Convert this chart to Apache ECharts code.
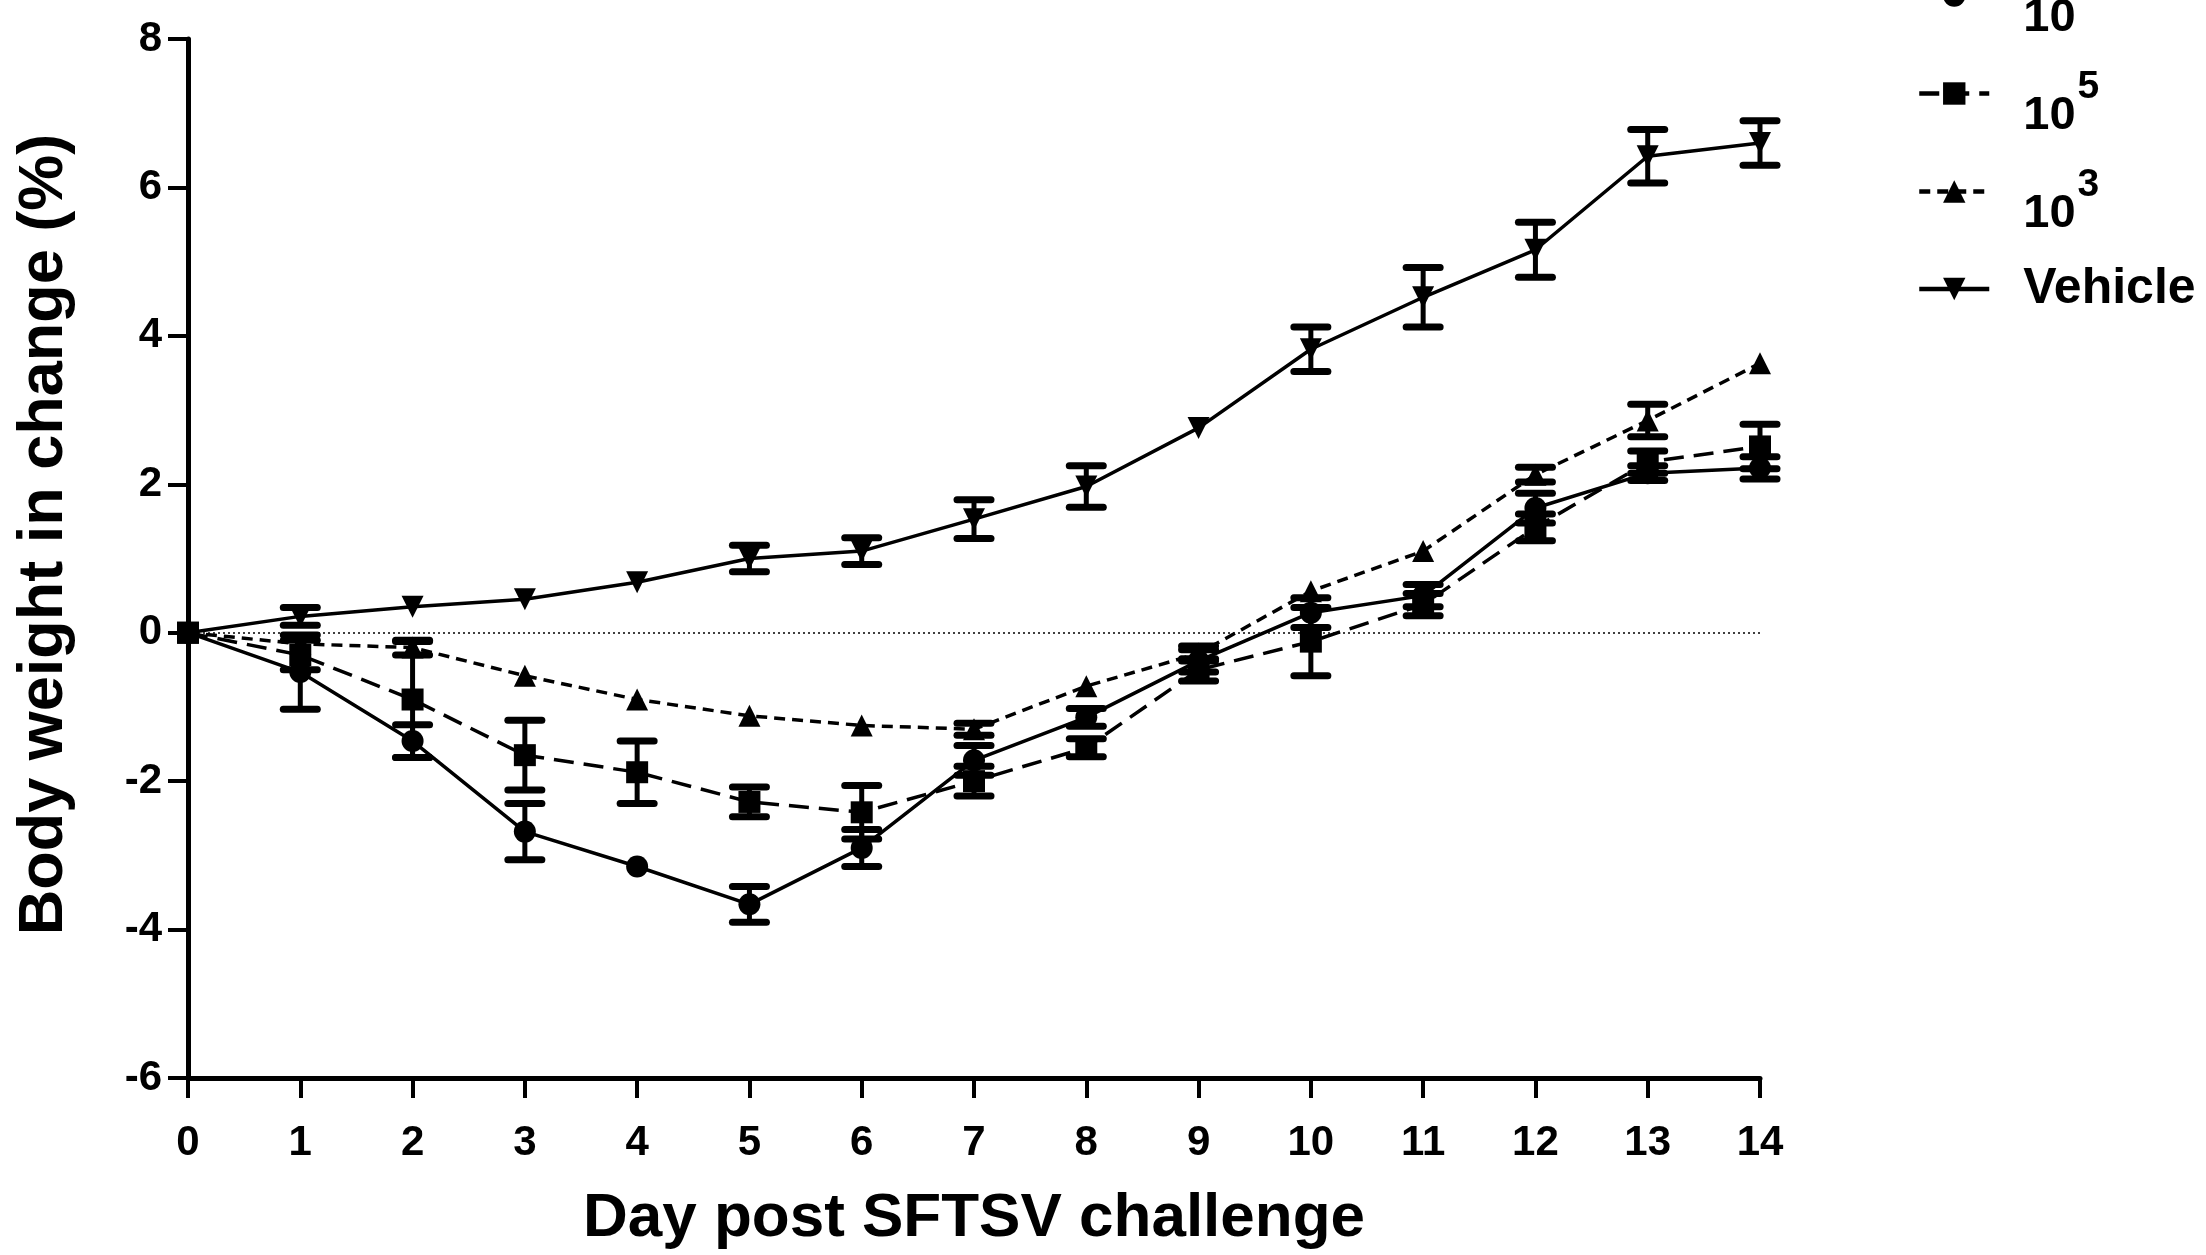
<!DOCTYPE html>
<html>
<head>
<meta charset="utf-8">
<script src="https://cdn.jsdelivr.net/npm/echarts@6/dist/echarts.min.js"></script>
<style>
html,body{margin:0;padding:0;background:#fff;}
#chart{width:2206px;height:1255px;}
</style>
</head>
<body>
<div id="chart"></div>
<script>
// ---- data ----
var days = [0,1,2,3,4,5,6,7,8,9,10,11,12,13,14];
var xTicks = ['0','1','2','3','4','5','6','7','8','9','10','11','12','13','14'];
var seriesNames = ['10^7','10^5','10^3','Vehicle'];

var g7    = [0,-0.53,-1.46,-2.68,-3.15,-3.66,-2.90,-1.72,-1.14,-0.38,0.27,0.50,1.68,2.15,2.22];
var g7Err = [0, 0.50, 0.22, 0.38, 0.04, 0.24, 0.25, 0.20, 0.12, 0.15,0.20,0.15,0.20,0.10,0.15];

var g5    = [0,-0.30,-0.90,-1.65,-1.88,-2.28,-2.42,-2.00,-1.55,-0.50,-0.12,0.38,1.42,2.30,2.51];
var g5Err = [0, 0.20, 0.78, 0.47, 0.42, 0.20, 0.36, 0.20, 0.12, 0.15, 0.46,0.15,0.18,0.15,0.30];

var g3    = [0,-0.15,-0.20,-0.58,-0.90,-1.12,-1.25,-1.30,-0.72,-0.28,0.56,1.10,2.13,2.86,3.63];
var g3Err = [0, 0.05, 0.10, 0.05, 0.05, 0.05, 0.05, 0.08, 0.05, 0.10,0.05,0.05,0.10,0.22,0.05];

var veh    = [0,0.22,0.35,0.45,0.68,1.00,1.10,1.53,1.97,2.76,3.82,4.52,5.16,6.42,6.60];
var vehErr = [0,0.12,0.05,0.05,0.05,0.18,0.18,0.26,0.28,0.05,0.30,0.40,0.37,0.36,0.30];

// ---- helpers ----
function pts(vals){ return days.map(function(d,i){ return [d, vals[i]]; }); }
function errPts(vals, errs){ return days.map(function(d,i){ return [d, vals[i], errs[i]]; }); }

var FONT = '"Liberation Sans", Arial, Helvetica, sans-serif';

function errRender(params, api){
  var x = api.value(0), y = api.value(1), e = api.value(2);
  if (!(e > 0.06)) return null;
  var top = api.coord([x, y + e]);
  var bot = api.coord([x, y - e]);
  var hw = 17;
  var st = {stroke:'#000', lineWidth:7, lineCap:'round'};
  return {
    type:'group',
    children:[
      {type:'line', shape:{x1:top[0], y1:top[1], x2:bot[0], y2:bot[1]}, style:{stroke:'#000', lineWidth:5}},
      {type:'line', shape:{x1:top[0]-hw, y1:top[1], x2:top[0]+hw, y2:top[1]}, style:st},
      {type:'line', shape:{x1:bot[0]-hw, y1:bot[1], x2:bot[0]+hw, y2:bot[1]}, style:st}
    ]
  };
}

function lineSeries(name, vals, symbol, dash, rotate){
  return {
    name: name,
    type: 'line',
    data: pts(vals),
    symbol: symbol,
    symbolSize: 22,
    symbolRotate: rotate || 0,
    showSymbol: true,
    itemStyle: {color:'#000'},
    lineStyle: {color:'#000', width:3.5, type: dash},
    z: 3,
    animation: false
  };
}
function errSeries(name, vals, errs){
  return {
    name: name + ' err',
    type: 'custom',
    data: errPts(vals, errs),
    renderItem: errRender,
    encode: {x:0, y:1},
    z: 4,
    silent: true,
    animation: false
  };
}

var chart = echarts.init(document.getElementById('chart'), null, {renderer:'canvas'});

var s7 = lineSeries(seriesNames[0], g7, 'circle', 'solid');
s7.markLine = {
  silent: true,
  symbol: ['none','none'],
  label: {show:false},
  lineStyle: {color:'#000', type:[2,3], width:1.6},
  data: [{yAxis: 0}],
  animation: false
};

var option = {
  backgroundColor: '#fff',
  textStyle: {fontFamily: FONT},
  grid: {left:188, right:446, top:39, bottom:175, containLabel:false},
  legend: {
    data: seriesNames,
    orient: 'vertical',
    left: 1912,
    top: -35,
    itemGap: 26,
    itemWidth: 70,
    itemHeight: 28,
    selectedMode: false,
    lineStyle: {width: 4.5},
    formatter: function(name){
      if (name === 'Vehicle') return '{v|Vehicle}';
      var p = name.split('^');
      return '{a|' + p[0] + '}{b|' + p[1] + '}';
    },
    textStyle: {
      fontFamily: FONT, fontWeight:'bold', color:'#000', fontSize:46,
      rich: {
        a: {fontFamily: FONT, fontWeight:'bold', color:'#000', fontSize:47, padding:[46,0,0,29]},
        b: {fontFamily: FONT, fontWeight:'bold', color:'#000', fontSize:39, padding:[20,0,32,2]},
        v: {fontFamily: FONT, fontWeight:'bold', color:'#000', fontSize:50, padding:[20,0,20,29]}
      }
    }
  },
  xAxis: {
    type: 'value',
    min: 0, max: 14, interval: 1,
    name: 'Day post SFTSV challenge',
    nameLocation: 'middle',
    nameGap: 110,
    nameTextStyle: {fontFamily: FONT, fontWeight:'bold', fontSize:62, color:'#000'},
    axisLine: {onZero:false, lineStyle:{color:'#000', width:5}},
    axisTick: {show:true, inside:false, length:20, lineStyle:{color:'#000', width:4}},
    axisLabel: {
      margin: 44, fontFamily: FONT, fontWeight:'bold', fontSize:42, color:'#000',
      formatter: function(v){ return xTicks[days.indexOf(v)]; }
    },
    splitLine: {show:false}
  },
  yAxis: {
    type: 'value',
    min: -6, max: 8, interval: 2,
    name: 'Body weight in change (%)',
    nameLocation: 'middle',
    nameGap: 112,
    nameRotate: 90,
    nameTextStyle: {fontFamily: FONT, fontWeight:'bold', fontSize:63, color:'#000', padding:[0,0,0,48]},
    axisLine: {show:true, onZero:false, lineStyle:{color:'#000', width:5}},
    axisTick: {show:true, inside:false, length:20, lineStyle:{color:'#000', width:4}},
    axisLabel: {margin: 26, fontFamily: FONT, fontWeight:'bold', fontSize:42, color:'#000'},
    splitLine: {show:false}
  },
  series: [
    s7,
    lineSeries(seriesNames[1], g5, 'rect', [20,10]),
    lineSeries(seriesNames[2], g3, 'triangle', [11,7]),
    lineSeries(seriesNames[3], veh, 'triangle', 'solid', 180),
    errSeries(seriesNames[0], g7, g7Err),
    errSeries(seriesNames[1], g5, g5Err),
    errSeries(seriesNames[2], g3, g3Err),
    errSeries(seriesNames[3], veh, vehErr)
  ]
};
chart.setOption(option);
</script>
</body>
</html>
